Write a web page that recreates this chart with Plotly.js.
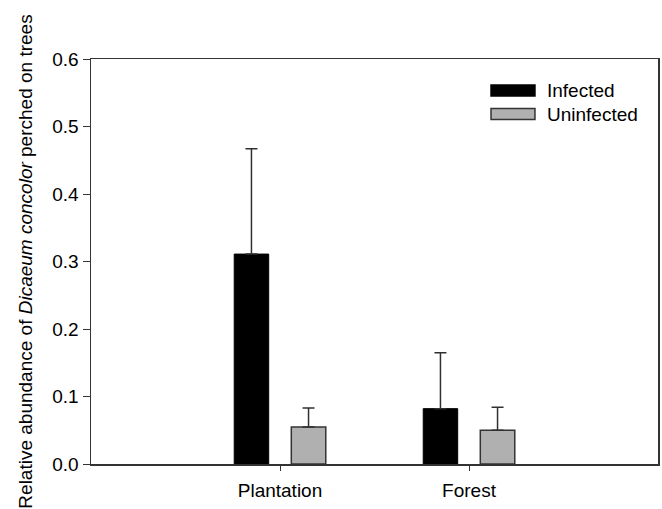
<!DOCTYPE html>
<html>
<head>
<meta charset="utf-8">
<script src="https://cdn.plot.ly/plotly-3.0.1.min.js"></script>
<style>html,body{margin:0;padding:0;background:#fff;}#chart{width:662px;height:509px;}</style>
</head>
<body>
<div id="chart"></div>
<script>
var categories = ["Plantation", "Forest"];
var seriesNames = ["Infected", "Uninfected"];
var infectedValues = [0.311, 0.082];
var infectedErrors = [0.156, 0.083];
var uninfectedValues = [0.055, 0.050];
var uninfectedErrors = [0.028, 0.034];
var yTickValues = [0.0, 0.1, 0.2, 0.3, 0.4, 0.5, 0.6];
var yTickLabels = ["0.0", "0.1", "0.2", "0.3", "0.4", "0.5", "0.6"];

var catPos = categories.map(function (c, i) { return i + 1; });
var FONT = "Liberation Sans, Arial, sans-serif";
var FS = 19;
var fills = ["#000000", "#b0b0b0"];
var edges = ["#000000", "#333333"];

function errBar(arr) {
  return { type: "data", symmetric: false, array: arr, arrayminus: arr.map(function () { return 0; }),
           color: "#303030", thickness: 1.5, width: 6 };
}

var traces = [
  { type: "bar", name: seriesNames[0], x: catPos, y: infectedValues,
    marker: { color: fills[0], line: { color: edges[0], width: 1 } },
    error_y: errBar(infectedErrors), showlegend: false },
  { type: "bar", name: seriesNames[1], x: catPos, y: uninfectedValues,
    marker: { color: fills[1], line: { color: edges[1], width: 1.5 } },
    error_y: errBar(uninfectedErrors), showlegend: false }
];

// custom legend (paper coordinates)
var shapes = [];
var annotations = [];
var legY = [0.922, 0.864];
seriesNames.forEach(function (n, i) {
  shapes.push({ type: "rect", xref: "paper", yref: "paper",
    x0: 0.7055, x1: 0.783, y0: legY[i] - 0.0136, y1: legY[i] + 0.0136,
    fillcolor: fills[i], line: { color: edges[i], width: 1.5 } });
  annotations.push({ xref: "paper", yref: "paper", x: 0.80, y: legY[i],
    xanchor: "left", yanchor: "middle", showarrow: false, text: n,
    font: { family: FONT, size: FS, color: "#000" } });
});

var layout = {
  width: 662, height: 509,
  margin: { l: 91, r: 4, t: 59, b: 45, pad: 0 },
  paper_bgcolor: "#fff", plot_bgcolor: "#fff",
  font: { family: FONT, size: FS, color: "#000" },
  barmode: "group", bargap: 0.396, bargroupgap: 0.396,
  showlegend: false,
  xaxis: {
    range: [0, 3], tickvals: catPos, ticktext: categories,
    ticks: "outside", ticklen: 5, tickwidth: 1, tickcolor: "#333",
    showline: true, linecolor: "#333", linewidth: 1.5, mirror: true,
    showgrid: false, zeroline: false, ticklabelstandoff: 4,
    tickfont: { family: FONT, size: FS, color: "#000" }
  },
  yaxis: {
    range: [0, 0.6], tickvals: yTickValues, ticktext: yTickLabels,
    ticks: "outside", ticklen: 7, tickwidth: 1, tickcolor: "#333",
    showline: true, linecolor: "#333", linewidth: 1.5, mirror: true,
    showgrid: false, zeroline: false,
    tickfont: { family: FONT, size: FS, color: "#000" },
    title: { text: "Relative abundance of <i>Dicaeum concolor</i> perched on trees",
             font: { family: FONT, size: FS, color: "#000" }, standoff: 14 },
    automargin: false
  },
  shapes: shapes,
  annotations: annotations
};

Plotly.newPlot("chart", traces, layout, { displayModeBar: false, staticPlot: true });
</script>
</body>
</html>
